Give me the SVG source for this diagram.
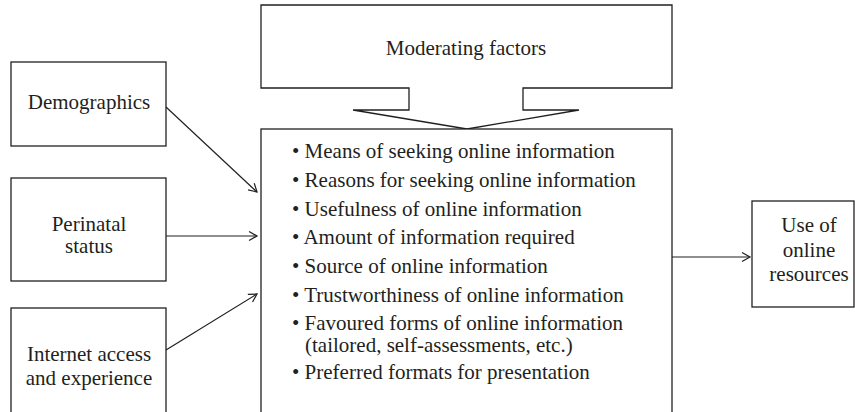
<svg xmlns="http://www.w3.org/2000/svg" width="855" height="412" viewBox="0 0 855 412">
<defs>
<style>
.box{fill:#fff;stroke:#231f20;stroke-width:1.3}
.t{font-family:'Liberation Serif','Times New Roman',Tinos,'DejaVu Serif',serif;font-size:21px;fill:#231f20}
.c{text-anchor:middle}
.conn{stroke:#231f20;stroke-width:1.2;fill:none}
</style>
<marker id="arr" markerUnits="userSpaceOnUse" markerWidth="12" markerHeight="12" refX="9" refY="5" orient="auto" viewBox="0 0 12 10">
<path d="M1,0.5 L9,5 L1,9.5" fill="none" stroke="#231f20" stroke-width="1.2"/>
</marker>
</defs>
<rect width="855" height="412" fill="#fff"/>
<g font-family="'Liberation Serif', 'Times New Roman', serif">
<g id="moderating">
<polygon class="box" points="261,5 672,5 672,88 523,88 523,110 579,110 467,129 353,110 409,110 409,88 261,88"/>
<text class="t c" x="466" y="55">Moderating factors</text>
</g>
<g id="demographics">
<rect class="box" x="11" y="62" width="155" height="84"/>
<text class="t c" x="89" y="109">Demographics</text>
</g>
<g id="perinatal">
<rect class="box" x="11" y="178" width="155" height="103"/>
<text class="t c" x="89" y="231">Perinatal</text>
<text class="t c" x="89" y="253">status</text>
</g>
<g id="internet">
<rect class="box" x="11" y="308" width="155" height="120"/>
<text class="t c" x="89" y="361">Internet access</text>
<text class="t c" x="89" y="385">and experience</text>
</g>
<g id="factors">
<rect class="box" x="261" y="129" width="411" height="300"/>
<text class="t" x="292" y="158">• Means of seeking online information</text>
<text class="t" x="292" y="187">• Reasons for seeking online information</text>
<text class="t" x="292" y="216">• Usefulness of online information</text>
<text class="t" x="292" y="244">• Amount of information required</text>
<text class="t" x="292" y="273">• Source of online information</text>
<text class="t" x="292" y="302">• Trustworthiness of online information</text>
<text class="t" x="292" y="330">• Favoured forms of online information</text>
<text class="t" x="305" y="352">(tailored, self-assessments, etc.)</text>
<text class="t" x="292" y="379">• Preferred formats for presentation</text>
</g>
<g id="use">
<rect class="box" x="752" y="201" width="102" height="106"/>
<text class="t c" x="809" y="232">Use of</text>
<text class="t c" x="809" y="257">online</text>
<text class="t c" x="809" y="281">resources</text>
</g>
</g>
<g id="connectors">
<line class="conn" x1="166" y1="107" x2="257" y2="192" marker-end="url(#arr)"/>
<line class="conn" x1="166" y1="236" x2="257" y2="236" marker-end="url(#arr)"/>
<line class="conn" x1="166" y1="350" x2="257" y2="294" marker-end="url(#arr)"/>
<line class="conn" x1="672" y1="257" x2="750" y2="257" marker-end="url(#arr)"/>
</g>
</svg>
